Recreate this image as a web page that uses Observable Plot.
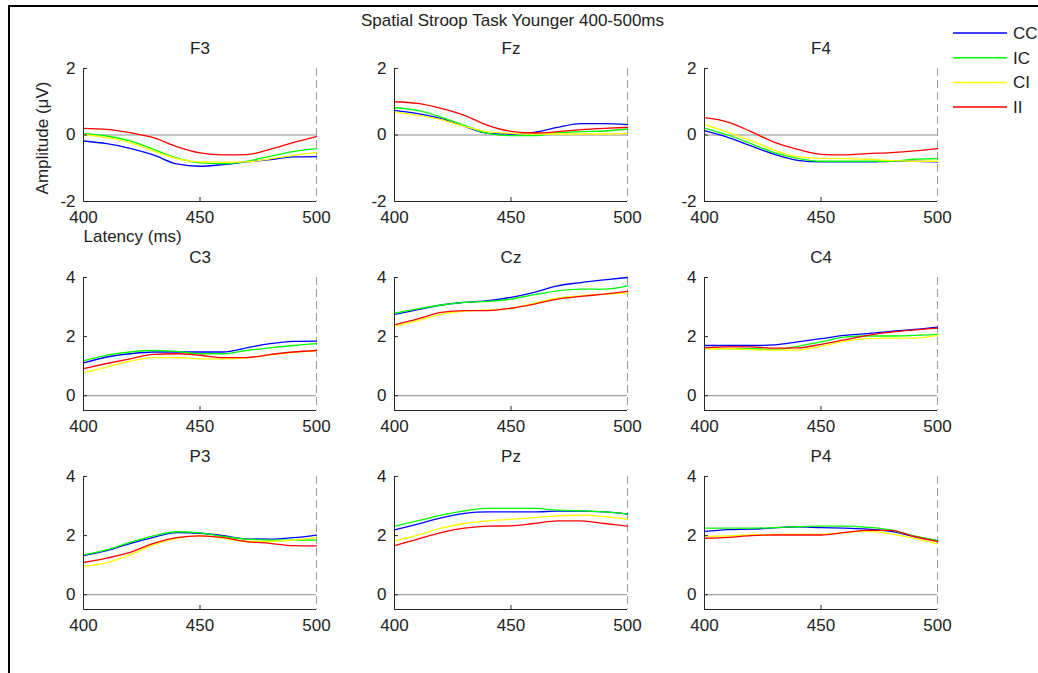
<!DOCTYPE html>
<html>
<head>
<meta charset="utf-8">
<script src="https://cdn.jsdelivr.net/npm/d3@7"></script>
<script src="https://cdn.jsdelivr.net/npm/@observablehq/plot@0.6"></script>
<style>
  body { margin: 0; background: #fff; font-family: "Liberation Sans", Arial, sans-serif; }
  #chart { position: relative; width: 1038px; height: 673px; overflow: hidden; background: #fff; }
  #chart svg.plotpanel { position: absolute; }
</style>
</head>
<body>
<div id="chart"></div>
<script>
const title = "Spatial Stroop Task Younger 400-500ms";
const latency = [400, 410, 420, 430, 440, 450, 460, 470, 480, 490, 500];
const xTicks = [400, 450, 500];
const conditions = ["CC", "IC", "CI", "II"];
const colors = ["#0000ff", "#00ff00", "#ffff00", "#ff0000"];
const channels = ["F3", "Fz", "F4", "C3", "Cz", "C4", "P3", "Pz", "P4"];
const frontalDomain = [-2, 2];
const frontalTicks = [-2, 0, 2];
const otherDomain = [-0.5, 4];
const otherTicks = [0, 2, 4];

const F3_CC = [-0.18, -0.26, -0.40, -0.60, -0.87, -0.94, -0.89, -0.81, -0.74, -0.66, -0.65];
const F3_IC = [0.04, -0.03, -0.18, -0.43, -0.69, -0.84, -0.86, -0.79, -0.64, -0.50, -0.41];
const F3_CI = [0.02, -0.08, -0.23, -0.48, -0.71, -0.81, -0.82, -0.81, -0.72, -0.61, -0.52];
const F3_II = [0.20, 0.17, 0.07, -0.08, -0.35, -0.54, -0.60, -0.59, -0.43, -0.23, -0.05];

const Fz_CC = [0.74, 0.64, 0.49, 0.26, 0.05, 0.03, 0.08, 0.23, 0.34, 0.34, 0.31];
const Fz_IC = [0.82, 0.74, 0.54, 0.29, 0.05, -0.02, -0.02, 0.07, 0.10, 0.12, 0.18];
const Fz_CI = [0.69, 0.59, 0.46, 0.26, 0.10, 0.05, 0.03, 0.03, 0.03, 0.03, 0.05];
const Fz_II = [1.00, 0.95, 0.80, 0.59, 0.29, 0.11, 0.06, 0.10, 0.16, 0.20, 0.23];

const F4_CC = [0.13, -0.07, -0.33, -0.58, -0.76, -0.81, -0.81, -0.81, -0.79, -0.79, -0.81];
const F4_IC = [0.21, 0.00, -0.26, -0.53, -0.70, -0.79, -0.79, -0.79, -0.79, -0.73, -0.71];
const F4_CI = [0.31, 0.08, -0.17, -0.46, -0.65, -0.70, -0.71, -0.73, -0.77, -0.79, -0.79];
const F4_II = [0.52, 0.39, 0.10, -0.22, -0.43, -0.58, -0.60, -0.56, -0.53, -0.48, -0.41];

const C3_CC = [1.11, 1.31, 1.42, 1.48, 1.48, 1.48, 1.48, 1.62, 1.76, 1.84, 1.85];
const C3_IC = [1.18, 1.37, 1.48, 1.53, 1.50, 1.42, 1.42, 1.53, 1.62, 1.70, 1.76];
const C3_CI = [0.77, 0.97, 1.17, 1.29, 1.29, 1.25, 1.25, 1.28, 1.38, 1.47, 1.52];
const C3_II = [0.92, 1.09, 1.25, 1.40, 1.42, 1.37, 1.29, 1.29, 1.39, 1.48, 1.53];

const Cz_CC = [2.75, 2.91, 3.07, 3.16, 3.22, 3.33, 3.50, 3.72, 3.83, 3.92, 4.00];
const Cz_IC = [2.79, 2.94, 3.07, 3.16, 3.19, 3.27, 3.42, 3.55, 3.61, 3.61, 3.72];
const Cz_CI = [2.35, 2.54, 2.75, 2.86, 2.90, 2.96, 3.13, 3.31, 3.38, 3.44, 3.47];
const Cz_II = [2.40, 2.60, 2.82, 2.88, 2.88, 2.96, 3.10, 3.27, 3.36, 3.44, 3.53];

const C4_CC = [1.70, 1.70, 1.70, 1.72, 1.82, 1.93, 2.04, 2.10, 2.18, 2.24, 2.32];
const C4_IC = [1.62, 1.59, 1.59, 1.56, 1.67, 1.82, 1.98, 2.02, 2.02, 2.04, 2.07];
const C4_CI = [1.59, 1.59, 1.56, 1.54, 1.54, 1.67, 1.84, 1.93, 1.95, 1.95, 2.04];
const C4_II = [1.62, 1.65, 1.65, 1.61, 1.62, 1.74, 1.89, 2.04, 2.15, 2.23, 2.29];

const P3_CC = [1.32, 1.49, 1.73, 1.94, 2.10, 2.08, 2.00, 1.89, 1.88, 1.93, 2.02];
const P3_IC = [1.35, 1.52, 1.77, 1.99, 2.13, 2.09, 1.97, 1.88, 1.85, 1.85, 1.85];
const P3_CI = [0.96, 1.09, 1.35, 1.69, 1.91, 2.00, 1.91, 1.80, 1.80, 1.85, 1.93];
const P3_II = [1.09, 1.24, 1.43, 1.74, 1.93, 1.99, 1.93, 1.80, 1.74, 1.66, 1.65];

const Pz_CC = [2.19, 2.39, 2.60, 2.75, 2.80, 2.80, 2.80, 2.83, 2.83, 2.80, 2.73];
const Pz_IC = [2.32, 2.50, 2.69, 2.84, 2.92, 2.92, 2.92, 2.86, 2.84, 2.80, 2.73];
const Pz_CI = [1.82, 2.02, 2.25, 2.41, 2.50, 2.55, 2.61, 2.67, 2.69, 2.64, 2.55];
const Pz_II = [1.66, 1.88, 2.10, 2.25, 2.32, 2.33, 2.41, 2.50, 2.50, 2.41, 2.32];

const P4_CC = [2.14, 2.20, 2.22, 2.26, 2.30, 2.27, 2.25, 2.22, 2.14, 1.97, 1.83];
const P4_IC = [2.25, 2.25, 2.25, 2.27, 2.30, 2.32, 2.32, 2.28, 2.19, 1.99, 1.83];
const P4_CI = [1.97, 1.99, 2.02, 2.04, 2.04, 2.04, 2.10, 2.14, 2.06, 1.91, 1.72];
const P4_II = [1.91, 1.94, 2.00, 2.02, 2.02, 2.02, 2.10, 2.18, 2.18, 1.97, 1.80];

const seriesByChannel = {
  F3: [F3_CC, F3_IC, F3_CI, F3_II],
  Fz: [Fz_CC, Fz_IC, Fz_CI, Fz_II],
  F4: [F4_CC, F4_IC, F4_CI, F4_II],
  C3: [C3_CC, C3_IC, C3_CI, C3_II],
  Cz: [Cz_CC, Cz_IC, Cz_CI, Cz_II],
  C4: [C4_CC, C4_IC, C4_CI, C4_II],
  P3: [P3_CC, P3_IC, P3_CI, P3_II],
  Pz: [Pz_CC, Pz_IC, Pz_CI, Pz_II],
  P4: [P4_CC, P4_IC, P4_CI, P4_II]
};

// layout
const FONT = "'Liberation Sans', Arial, sans-serif";
const colLefts = [83, 394, 704];
const rowTops = [68, 277, 476];
const frameW = 233, frameH = 133;
const mL = 45, mR = 15, mT = 35, mB = 45;
const axisColor = "#262626";

const chart = document.getElementById("chart");

// figure border (left and top edges)
const border = document.createElement("div");
Object.assign(border.style, {position: "absolute", left: "8px", top: "5px", width: "1100px", height: "700px",
  borderLeft: "2px solid #000", borderTop: "2px solid #000", boxSizing: "border-box"});
chart.appendChild(border);

// overall title
const t = document.createElement("div");
t.textContent = title;
Object.assign(t.style, {position: "absolute", left: "0px", width: "1025px", top: "11px", textAlign: "center",
  fontFamily: FONT, fontSize: "17px", lineHeight: "20px", color: "#222"});
chart.appendChild(t);

function panel(name, idx) {
  const series = seriesByChannel[name];
  const row = Math.floor(idx / 3), col = idx % 3;
  const yDomain = row === 0 ? frontalDomain : otherDomain;
  const yTicks = row === 0 ? frontalTicks : otherTicks;
  const rows = conditions.flatMap((c, k) => latency.map((tt, i) => ({t: tt, v: series[k][i], cond: c})));
  const extras = [];
  if (idx === 0) {
    extras.push(Plot.text(["Latency (ms)"], {frameAnchor: "bottom-left", dy: 35, textAnchor: "start", lineAnchor: "middle", fill: "#222"}));
    extras.push(Plot.text(["Amplitude (\u03bcV)"], {frameAnchor: "left", rotate: -90, dx: -41, dy: 3, textAnchor: "middle", lineAnchor: "middle", fill: "#222"}));
  }
  const svg = Plot.plot({
    width: mL + frameW + mR,
    height: mT + frameH + mB,
    marginLeft: mL, marginRight: mR, marginTop: mT, marginBottom: mB,
    x: {domain: [400, 500], label: null},
    y: {domain: yDomain, label: null},
    color: {domain: conditions, range: colors},
    style: {background: "none", overflow: "visible", fontFamily: FONT, fontSize: "17px", color: "#222"},
    marks: [
      Plot.ruleY([0], {stroke: "#8c8c8c", strokeWidth: 1}),
      Plot.ruleX([500], {stroke: "#9a9a9a", strokeDasharray: "8,4", strokeWidth: 1}),
      Plot.line(rows, {x: "t", y: "v", z: "cond", stroke: "cond", strokeWidth: 1.3, curve: "monotone-x"}),
      Plot.ruleX([400], {stroke: axisColor}),
      Plot.ruleY([yDomain[0]], {stroke: axisColor}),
      Plot.tickY(yTicks, {y: d => d, insetRight: frameW - 4, stroke: axisColor}),
      Plot.tickX([450], {x: d => d, insetTop: frameH - 4, stroke: axisColor}),
      Plot.axisY(yTicks, {tickSize: 0, tickPadding: 8, tickFormat: d => String(d)}),
      Plot.axisX(xTicks, {tickSize: 0, tickPadding: 9, tickFormat: d => String(d)}),
      Plot.text([name], {frameAnchor: "top", dy: -20, lineAnchor: "middle", fill: "#222"}),
      ...extras
    ]
  });
  svg.classList.add("plotpanel");
  svg.style.left = (colLefts[col] - mL) + "px";
  svg.style.top = (rowTops[row] - mT) + "px";
  svg.style.maxWidth = "none";
  chart.appendChild(svg);
}

channels.forEach((name, i) => panel(name, i));

// legend
const ns = "http://www.w3.org/2000/svg";
const leg = document.createElementNS(ns, "svg");
leg.setAttribute("width", 100);
leg.setAttribute("height", 110);
Object.assign(leg.style, {position: "absolute", left: "945px", top: "20px", overflow: "visible"});
conditions.forEach((c, i) => {
  const y = 13 + i * 24.7;
  const ln = document.createElementNS(ns, "line");
  ln.setAttribute("x1", 8); ln.setAttribute("x2", 62);
  ln.setAttribute("y1", y); ln.setAttribute("y2", y);
  ln.setAttribute("stroke", colors[i]); ln.setAttribute("stroke-width", 1.5);
  leg.appendChild(ln);
  const tx = document.createElementNS(ns, "text");
  tx.setAttribute("x", 68); tx.setAttribute("y", y);
  tx.setAttribute("dy", "0.35em");
  tx.setAttribute("font-family", FONT);
  tx.setAttribute("font-size", 17);
  tx.setAttribute("fill", "#222");
  tx.textContent = c;
  leg.appendChild(tx);
});
chart.appendChild(leg);
</script>
</body>
</html>
